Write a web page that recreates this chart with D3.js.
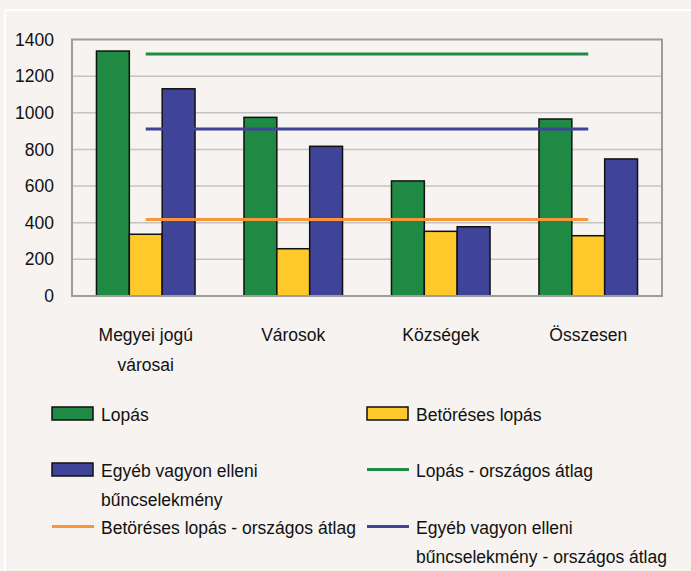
<!DOCTYPE html>
<html>
<head>
<meta charset="utf-8">
<script src="https://cdn.jsdelivr.net/npm/d3@7"></script>
<style>
  body { margin: 0; background: #f6f3f0; }
  svg text { font-family: "Liberation Sans", Arial, sans-serif; fill: #111; }
</style>
</head>
<body>
<div id="chart"></div>
<script>
const categories = [["Megyei jogú", "városai"], ["Városok"], ["Községek"], ["Összesen"]];
const seriesNames = ["Lopás", "Betöréses lopás", "Egyéb vagyon elleni bűncselekmény"];
const lopas = [1337, 975, 628, 966];
const betoreses = [337, 258, 353, 329];
const egyeb = [1131, 817, 378, 748];
const averages = [1321, 417, 911]; // lopás, betöréses, egyéb
const yTicks = [0, 200, 400, 600, 800, 1000, 1200, 1400];

const width = 691, height = 571;
const colors = ["#1f8a43", "#ffc92a", "#3f4498"];
const lineColors = ["#1f8a43", "#f7963a", "#3f4498"];

const svg = d3.select("#chart").append("svg")
  .attr("width", width).attr("height", height);

svg.append("rect").attr("width", width).attr("height", height).attr("fill", "#f6f3f0");
// white frame
svg.append("line").attr("x1", 5).attr("x2", width).attr("y1", 10).attr("y2", 10)
  .attr("stroke", "#fff").attr("stroke-width", 2);
svg.append("line").attr("x1", 5).attr("x2", 5).attr("y1", 10).attr("y2", height)
  .attr("stroke", "#fff").attr("stroke-width", 2);

const plot = { left: 72, right: 662, top: 39.5, bottom: 296 };

const x = d3.scaleBand().domain(d3.range(categories.length))
  .range([plot.left, plot.right]);
const xs = d3.scaleBand().domain(d3.range(3))
  .range([0, x.bandwidth()]).paddingOuter(0.745);
const y = d3.scaleLinear().domain([0, 1400]).range([plot.bottom, plot.top]);

// grid
svg.append("g").selectAll("line").data(yTicks.slice(1, -1)).join("line")
  .attr("x1", plot.left).attr("x2", plot.right)
  .attr("y1", d => y(d)).attr("y2", d => y(d))
  .attr("stroke", "#c4c4c4").attr("stroke-width", 1.5);

// y axis labels
const yAxis = svg.append("g").attr("transform", `translate(${plot.left},0)`)
  .call(d3.axisLeft(y).tickValues(yTicks).tickFormat(d3.format("d")).tickSize(0).tickPadding(18));
yAxis.select(".domain").remove();
yAxis.selectAll("text").style("font-size", "17.5px").style("fill", "#111")
  .style("font-family", '"Liberation Sans", Arial, sans-serif');

// bars
const data = [lopas, betoreses, egyeb];
data.forEach((vals, si) => {
  svg.append("g").selectAll("rect").data(vals).join("rect")
    .attr("x", (d, i) => x(i) + xs(si))
    .attr("y", d => y(d))
    .attr("width", xs.bandwidth())
    .attr("height", d => y(0) - y(d))
    .attr("fill", colors[si])
    .attr("stroke", "#111").attr("stroke-width", 1.5);
});

// average lines
averages.forEach((v, i) => {
  svg.append("line")
    .attr("x1", x(0) + x.bandwidth() / 2)
    .attr("x2", x(categories.length - 1) + x.bandwidth() / 2)
    .attr("y1", y(v)).attr("y2", y(v))
    .attr("stroke", lineColors[i]).attr("stroke-width", 3);
});

// plot border
svg.append("rect")
  .attr("x", plot.left).attr("y", plot.top)
  .attr("width", plot.right - plot.left).attr("height", plot.bottom - plot.top)
  .attr("fill", "none").attr("stroke", "#9c9c9e").attr("stroke-width", 2);

// category labels
const catG = svg.append("g").selectAll("text").data(categories).join("text")
  .attr("x", (d, i) => x(i) + x.bandwidth() / 2)
  .attr("y", 341)
  .attr("text-anchor", "middle")
  .style("font-size", "17.5px");
catG.selectAll("tspan").data(d => d).join("tspan")
  .attr("x", function () { return d3.select(this.parentNode).attr("x"); })
  .attr("dy", (d, i) => i === 0 ? 0 : 30)
  .text(d => d);

// legend
const legendItems = [
  { type: "rect", color: colors[0], lines: ["Lopás"], col: 0, row: 0 },
  { type: "rect", color: colors[1], lines: ["Betöréses lopás"], col: 1, row: 0 },
  { type: "rect", color: colors[2], lines: ["Egyéb vagyon elleni", "bűncselekmény"], col: 0, row: 1 },
  { type: "line", color: lineColors[0], lines: ["Lopás - országos átlag"], col: 1, row: 1 },
  { type: "line", color: lineColors[1], lines: ["Betöréses lopás - országos átlag"], col: 0, row: 2 },
  { type: "line", color: lineColors[2], lines: ["Egyéb vagyon elleni", "bűncselekmény - országos átlag"], col: 1, row: 2 }
];
const colX = [52, 367];
const rowY = [413.5, 469.5, 526.5];
const lg = svg.append("g").selectAll("g").data(legendItems).join("g")
  .attr("transform", d => `translate(${colX[d.col]},${rowY[d.row]})`);
lg.filter(d => d.type === "rect").append("rect")
  .attr("x", 0).attr("y", -6.5).attr("width", 41).attr("height", 13)
  .attr("fill", d => d.color).attr("stroke", "#111").attr("stroke-width", 1.5);
lg.filter(d => d.type === "line").append("line")
  .attr("x1", 0).attr("x2", 42).attr("y1", 0).attr("y2", 0)
  .attr("stroke", d => d.color).attr("stroke-width", 3);
const lt = lg.append("text").attr("x", 49).attr("y", 7).style("font-size", "17.5px");
lt.selectAll("tspan").data(d => d.lines).join("tspan")
  .attr("x", 49).attr("dy", (d, i) => i === 0 ? 0 : 29)
  .text(d => d);
</script>
</body>
</html>
